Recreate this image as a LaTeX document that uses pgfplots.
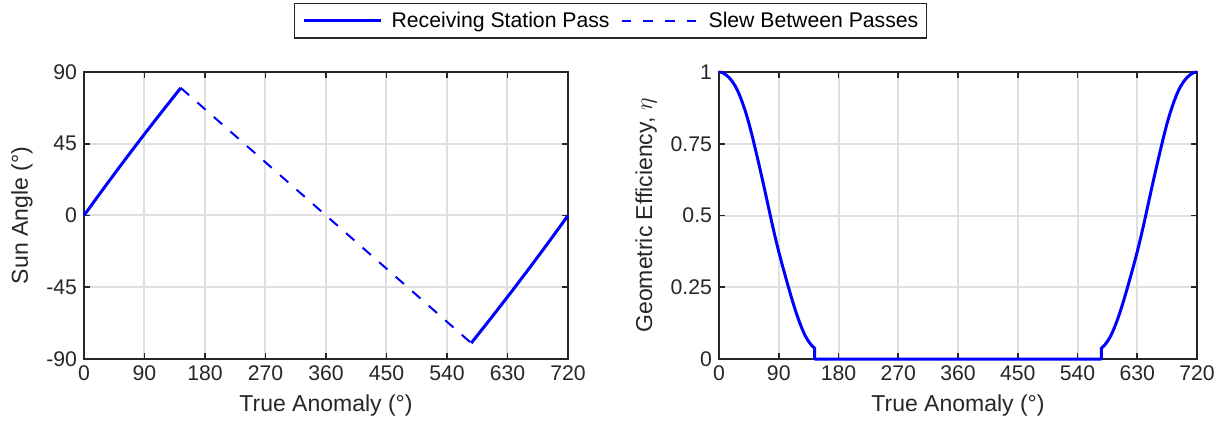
\documentclass[border=0pt]{standalone}
\usepackage{fontspec}
\setmainfont{Liberation Sans}
\usepackage{pgfplots}
\usepackage{pgfplotstable}
\pgfplotsset{compat=1.18}
\definecolor{axcol}{gray}{0.15}
\definecolor{gridcol}{gray}{0.875}
\definecolor{mblue}{rgb}{0,0,1}

\pgfplotsset{
  myaxis/.style={
    scale only axis, height=143.5pt,
    xmin=0, xmax=720, xtick={0,90,180,270,360,450,540,630,720},
    xticklabels={0,90,180,270,360,450,540,630,720},
    axis line style={axcol, line width=0.9pt},
    every tick/.style={axcol, line width=0.9pt},
    major tick length=3pt,
    tick align=inside,
    grid=major,
    major grid style={gridcol, line width=1pt},
    tick label style={font=\fontsize{10.6}{12}\selectfont, text=axcol},
    label style={font=\fontsize{11.5}{13}\selectfont, text=axcol},
    xlabel={True Anomaly (°)},
    clip=false,
  }
}

\pgfplotstableread{
x y
0 0
15 8.75
30 17.41
45 25.97
60 34.43
75 42.79
90 51.05
105 59.22
120 67.29
135 75.26
144 80.0
}\sunA
\pgfplotstableread{
x y
144 80.0
576 -80.0
}\sunSlew
\pgfplotstableread{
x y
576 -80.0
585 -75.26
600 -67.29
615 -59.22
630 -51.05
645 -42.79
660 -34.43
675 -25.97
690 -17.41
705 -8.75
720 0
}\sunB
\pgfplotstableread{
x y
0 1.000
5 0.998
10 0.991
15 0.981
20 0.967
25 0.949
30 0.925
35 0.895
40 0.861
45 0.822
50 0.777
55 0.729
60 0.680
65 0.629
70 0.577
75 0.524
80 0.471
85 0.421
90 0.374
95 0.330
100 0.288
105 0.247
110 0.207
115 0.170
120 0.136
125 0.106
130 0.080
135 0.061
140 0.046
144 0.038
144 0
576 0
576 0.038
580 0.046
585 0.061
590 0.080
595 0.106
600 0.136
605 0.170
610 0.207
615 0.247
620 0.288
625 0.330
630 0.374
635 0.421
640 0.471
645 0.524
650 0.577
655 0.629
660 0.680
665 0.729
670 0.777
675 0.822
680 0.861
685 0.895
690 0.925
695 0.949
700 0.967
705 0.981
710 0.991
715 0.998
720 1.000
}\etatab

\begin{document}
\begin{tikzpicture}
\path[use as bounding box] (0,0) rectangle (612.5pt,217pt);
\begin{axis}[myaxis,
  at={(42pt,37.5pt)}, anchor=south west,
  width=242pt,
  ymin=-90, ymax=90, ytick={-90,-45,0,45,90},
  yticklabels={-90,-45,0,45,90},
  ylabel={Sun Angle (°)},
  legend columns=2,
  legend style={at={(1.0878,1.2404)}, anchor=north,
    draw=axcol, line width=0.7pt,
    font=\fontsize{10.6}{12}\selectfont,
    inner xsep=4pt, inner ysep=3pt,
    nodes={inner xsep=0pt, inner ysep=1pt},
    /tikz/every odd column/.append style={column sep=4.5pt},
    /tikz/every even column/.append style={column sep=5.5pt}},
  legend image code/.code={\draw[#1] (0pt,0pt) -- (38.5pt,0pt);},
]
\addlegendimage{mblue, line width=1.5pt}
\addlegendentry{Receiving Station Pass}
\addlegendimage{mblue, line width=1pt, dash pattern=on 4.7pt off 6.2pt}
\addlegendentry{Slew Between Passes}
\addplot[mblue, line width=1.5pt, forget plot] table[x=x,y=y] {\sunA};
\addplot[mblue, line width=1pt, dash pattern=on 5.5pt off 5.5pt, forget plot] table[x=x,y=y] {\sunSlew};
\addplot[mblue, line width=1.5pt, forget plot] table[x=x,y=y] {\sunB};
\end{axis}
\begin{axis}[myaxis,
  at={(359.5pt,37.5pt)}, anchor=south west,
  width=239pt,
  ymin=0, ymax=1, ytick={0,0.25,0.5,0.75,1},
  yticklabels={0,0.25,0.5,0.75,1},
  ylabel={Geometric Efficiency, $\eta$},
]
\addplot[mblue, line width=1.5pt, line join=round] table[x=x,y=y] {\etatab};
\end{axis}
\end{tikzpicture}
\end{document}
